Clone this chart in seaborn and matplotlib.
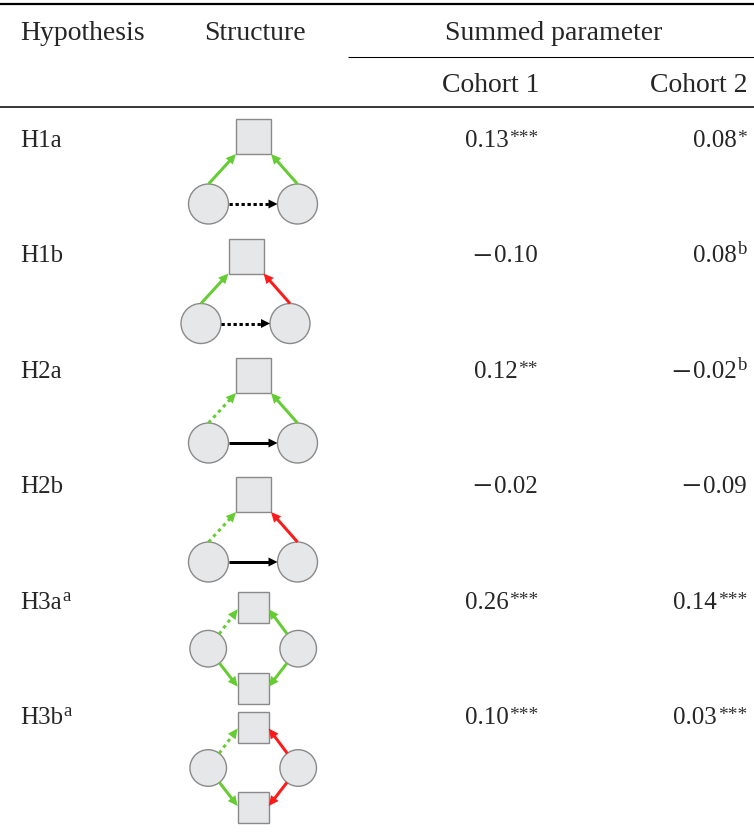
import numpy as np
import matplotlib
matplotlib.use("Agg")
import matplotlib.pyplot as plt
import seaborn as sns
from matplotlib.patches import Circle, Rectangle, Polygon

# ---------------- data ----------------
hypotheses = ["H1a", "H1b", "H2a", "H2b", "H3a", "H3b"]
hyp_notes = ["", "", "", "", "a", "a"]
cohort1 = [0.13, -0.10, 0.12, -0.02, 0.26, 0.10]
cohort1_marks = ["***", "", "**", "", "***", "***"]
cohort2 = [0.08, 0.08, -0.02, -0.09, 0.14, 0.03]
cohort2_marks = ["*", "b", "b", "", "***", "***"]
structure_kind = ["triangle", "triangle", "triangle", "triangle", "diamond", "diamond"]
# triangle edges: (left->square, right->square, left->right)
# diamond edges:  (left->top, right->top, left->bottom, right->bottom)
edge_sign = [
    ["pos", "pos", "ctrl"],
    ["pos", "neg", "ctrl"],
    ["pos", "pos", "ctrl"],
    ["pos", "neg", "ctrl"],
    ["pos", "pos", "pos", "pos"],
    ["pos", "neg", "pos", "neg"],
]
edge_dotted = [
    [False, False, True],
    [False, False, True],
    [True, False, False],
    [True, False, False],
    [True, False, False, False],
    [True, False, False, False],
]
col_headers = ["Hypothesis", "Structure", "Summed parameter", "Cohort 1", "Cohort 2"]

# ---------------- style ----------------
sns.set_theme(style="white")
plt.rcParams["font.family"] = ["Liberation Serif", "DejaVu Serif"]

GREEN = "#66CC33"
RED = "#FF1A1A"
BLACK = "#000000"
sign_color = {"pos": GREEN, "neg": RED, "ctrl": BLACK}
NODE_FC = "#E6E7E8"
NODE_EC = "#8A8A8A"

W, H = 754, 832
fig = plt.figure(figsize=(W / 100, H / 100), dpi=100)
ax = fig.add_axes([0, 0, 1, 1])
ax.set_xlim(0, W)
ax.set_ylim(H, 0)
ax.axis("off")
renderer = fig.canvas.get_renderer()

FS = 18
HFS = 20
SUP_FS = 13.5
X_LEFT = 20
X_STRUCT = 255
X_C1 = 538
X_C2 = 747

# rules
ax.hlines(3.5, 0, W, color="black", lw=1.6)
ax.hlines(57, 348, W, color="black", lw=0.75)
ax.hlines(107, 0, W, color="black", lw=1.1)

# headers
ax.text(X_LEFT, 40, col_headers[0], fontsize=HFS, ha="left", va="baseline")
ax.text(X_STRUCT, 40, col_headers[1], fontsize=HFS, ha="center", va="baseline")
ax.text(554, 40, col_headers[2], fontsize=HFS, ha="center", va="baseline")
ax.text(X_C1 + 1.5, 91.5, col_headers[3], fontsize=HFS, ha="right", va="baseline")
ax.text(X_C2 + 1, 91.5, col_headers[4], fontsize=HFS, ha="right", va="baseline")

row_baselines = [147, 262, 378, 493, 609, 724]
diagram_origin = [(236, 119), (228.5, 238.5), (236, 358), (236, 477),
                  (237.7, 592.2), (237.7, 711.5)]


def width_of(t):
    return t.get_window_extent(renderer=renderer).width


def value_cell(xr, y, v, mark):
    right = xr
    if mark:
        if mark == "b":
            m = ax.text(xr, y - 8, mark, fontsize=SUP_FS, ha="right", va="baseline")
        else:
            m = ax.text(xr, y - 4, mark, fontsize=14, ha="right", va="baseline",
                        color="#333333")
        right = xr - width_of(m) - 0.5
    num = ax.text(right, y, f"{abs(v):.2f}", fontsize=FS, ha="right", va="baseline")
    if v < 0:
        left = right - width_of(num)
        ax.text(left - 2.5, y + 4.5, "\u2212", fontsize=25, ha="right", va="baseline")


def arrow(p0, p1, color, dotted, lw_px=3.0, head_len=10.0, head_w=9.5):
    p0 = np.asarray(p0, float)
    p1 = np.asarray(p1, float)
    d = p1 - p0
    u = d / np.hypot(*d)
    n = np.array([-u[1], u[0]])
    base = p1 - u * head_len
    shaft_end = base + u * 1.5
    lw = lw_px * 0.72
    if dotted:
        dash = (1.1, 0.9) if color == BLACK else (1.15, 1.25)
        ax.plot([p0[0], shaft_end[0]], [p0[1], shaft_end[1]], color=color, lw=lw,
                dashes=dash, dash_capstyle="butt", zorder=4)
    else:
        ax.plot([p0[0], shaft_end[0]], [p0[1], shaft_end[1]], color=color, lw=lw,
                solid_capstyle="butt", zorder=4)
    ax.add_patch(Polygon([p1, base + n * head_w / 2, base - n * head_w / 2],
                         closed=True, facecolor=color, edgecolor="none", zorder=5))


def node_circle(c, r):
    ax.add_patch(Circle(c, r, facecolor=NODE_FC, edgecolor=NODE_EC, lw=1.0, zorder=3))


def node_square(x, y, s):
    ax.add_patch(Rectangle((x, y), s, s, facecolor=NODE_FC, edgecolor=NODE_EC,
                           lw=1.0, zorder=3))


def boundary(c, r, target):
    c = np.asarray(c, float)
    t = np.asarray(target, float)
    d = t - c
    return c + d / np.hypot(*d) * r


def triangle(ox, oy, signs, dotted):
    s, r = 35, 20
    node_square(ox, oy, s)
    lc = (ox - 27.5, oy + 85)
    rc = (ox + 61.5, oy + 85)
    node_circle(lc, r)
    node_circle(rc, r)
    arrow((lc[0], lc[1] - r), (ox, oy + s), sign_color[signs[0]], dotted[0])
    arrow((rc[0], rc[1] - r), (ox + s, oy + s), sign_color[signs[1]], dotted[1])
    arrow((lc[0] + r, lc[1]), (rc[0] - r, rc[1]), sign_color[signs[2]], dotted[2],
          head_len=9.0, head_w=9.0)


def diamond(ox, oy, signs, dotted):
    s, r = 31, 18.3
    node_square(ox, oy, s)
    node_square(ox, oy + 80.5, s)
    lc = (ox - 29.5, oy + 56.5)
    rc = (ox + 60.5, oy + 56.5)
    node_circle(lc, r)
    node_circle(rc, r)
    tips = [(ox, oy + 17), (ox + s, oy + 17), (ox, oy + 80.5 + 14), (ox + s, oy + 80.5 + 14)]
    srcs = [lc, rc, lc, rc]
    for k in range(4):
        arrow(boundary(srcs[k], r, tips[k]), tips[k], sign_color[signs[k]], dotted[k])


for i, h in enumerate(hypotheses):
    y = row_baselines[i]
    t = ax.text(X_LEFT, y, h, fontsize=FS, ha="left", va="baseline")
    if hyp_notes[i]:
        w = width_of(t)
        ax.text(X_LEFT + w + 0.5, y - 8, hyp_notes[i], fontsize=SUP_FS, ha="left",
                va="baseline")
    value_cell(X_C1, y, cohort1[i], cohort1_marks[i])
    value_cell(X_C2, y, cohort2[i], cohort2_marks[i])
    ox, oy = diagram_origin[i]
    if structure_kind[i] == "triangle":
        triangle(ox, oy, edge_sign[i], edge_dotted[i])
    else:
        diamond(ox, oy, edge_sign[i], edge_dotted[i])

fig.savefig("out.png", dpi=100)
